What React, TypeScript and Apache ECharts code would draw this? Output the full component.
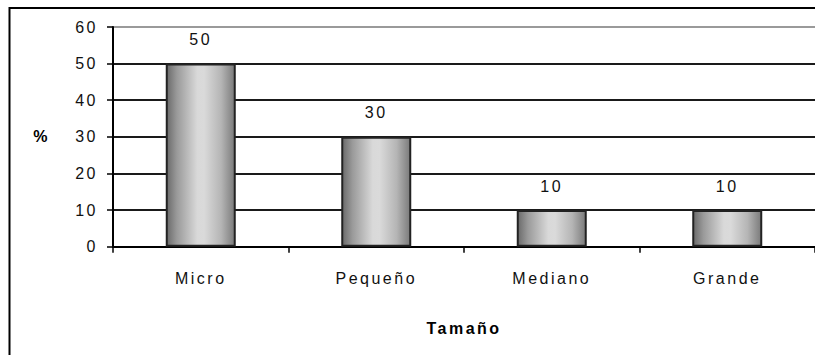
import React, { useEffect, useRef } from "react";
import * as echarts from "echarts";

const categories = ["Micro", "Pequeño", "Mediano", "Grande"];
const percentages = [50, 30, 10, 10];
const yTicks = { min: 0, max: 60, interval: 10 };
const xAxisTitle = "Tamaño";
const yAxisTitle = "%";

const FONT = "Arial, 'Liberation Sans', sans-serif";

export default function App() {
  const ref = useRef<HTMLDivElement>(null);

  useEffect(() => {
    if (!ref.current) return;
    const chart = echarts.init(ref.current, null, { renderer: "svg" });

    const barFill = new echarts.graphic.LinearGradient(0, 0, 1, 0, [
      { offset: 0, color: "#6a6a6a" },
      { offset: 0.15, color: "#9a9a9a" },
      { offset: 0.45, color: "#d9d9d9" },
      { offset: 0.55, color: "#dadada" },
      { offset: 0.8, color: "#b5b5b5" },
      { offset: 1, color: "#7a7a7a" },
    ]);

    chart.setOption({
      animation: false,
      backgroundColor: "#ffffff",
      textStyle: { fontFamily: FONT },
      graphic: [
        {
          type: "rect",
          shape: { x: 9.5, y: 8, width: 900, height: 500 },
          style: { fill: "none", stroke: "#000", lineWidth: 2 },
          silent: true,
          z: 0,
        },
      ],
      grid: { left: 113, top: 27, width: 704, height: 219.7 },
      xAxis: {
        type: "category",
        data: categories,
        boundaryGap: true,
        axisLine: { show: true, lineStyle: { color: "#000", width: 2 } },
        axisTick: { show: true, alignWithLabel: false, length: 6, lineStyle: { color: "#000", width: 1.5 } },
        axisLabel: { color: "#111", fontSize: 16, margin: 24, fontFamily: FONT },
        name: xAxisTitle,
        nameLocation: "middle",
        nameGap: 74,
        nameTextStyle: { color: "#000", fontSize: 16, fontWeight: "bold", fontFamily: FONT },
      },
      yAxis: {
        type: "value",
        min: yTicks.min,
        max: yTicks.max,
        interval: yTicks.interval,
        axisLine: { show: true, lineStyle: { color: "#000", width: 2 } },
        axisTick: { show: true, length: 6, lineStyle: { color: "#000", width: 1.5 } },
        axisLabel: { color: "#111", fontSize: 16, margin: 15, fontFamily: FONT },
        splitLine: {
          show: true,
          lineStyle: {
            color: ["#000", "#1a1a1a", "#1a1a1a", "#1a1a1a", "#1a1a1a", "#1a1a1a", "#9a9a9a"],
            width: 2,
          },
        },
        name: yAxisTitle,
        nameLocation: "middle",
        nameRotate: 0,
        nameGap: 63,
        nameTextStyle: { color: "#000", fontSize: 16, fontWeight: "bold", fontFamily: FONT, padding: [10, 0, 0, 0] },
      },
      series: [
        {
          type: "bar",
          data: percentages,
          barWidth: 70,
          itemStyle: { color: barFill, borderColor: "#222", borderWidth: 2 },
          label: {
            show: true,
            position: "top",
            distance: 16,
            color: "#111",
            fontSize: 16,
            fontFamily: FONT,
          },
        },
      ],
    });

    return () => chart.dispose();
  }, []);

  return (
    <>
      <style>{`.spaced-chart svg text { letter-spacing: 2.5px; }`}</style>
      <div
        ref={ref}
        className="spaced-chart"
        style={{ position: "fixed", left: 0, top: 0, width: 815, height: 355 }}
      />
    </>
  );
}
